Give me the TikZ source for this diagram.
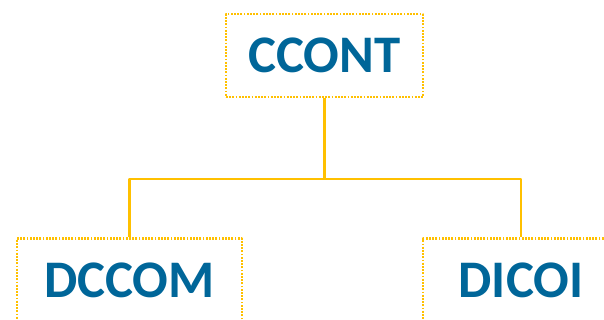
\documentclass[tikz,border=0pt]{standalone}
\usepackage{fontspec}
\setmainfont{Carlito}
\usepackage{tikz}
\usetikzlibrary{positioning,calc}
\definecolor{unitgold}{RGB}{255,192,0}
\definecolor{unitblue}{RGB}{0,102,153}

\begin{document}
\begin{tikzpicture}[line join=bevel,
    unitbox/.style={draw=unitgold,line width=2.2bp,dash pattern=on 1.8bp off 1.4bp,
      rectangle,minimum height=83bp,inner sep=0pt,text=unitblue,
      font=\fontsize{53}{53}\selectfont\bfseries},
    conn/.style={draw=unitgold,line width=2.4bp}]
  \useasboundingbox (0bp,0bp) rectangle (604bp,-320bp);
  \clip (0bp,0bp) rectangle (604bp,-320bp);
%%
  % Node: CCONT
  \node[unitbox,minimum width=197bp] (ccont) at (324.5bp,-55.5bp) {CCONT};
  % Node: DCCOM
  \node[unitbox,minimum width=225bp] (dccom) at (129.5bp,-280bp) {DCCOM};
  % Node: DICOI
  \node[unitbox,minimum width=196bp] (dicoi) at (521bp,-280bp) {DICOI};
  % Edge: CCONT -> hub
  \draw[conn] (ccont.south) -- ++(0bp,-81bp) coordinate (hub);
  % Edge: hub -> DCCOM
  \draw[conn] (hub) -| (dccom.north);
  % Edge: hub -> DICOI
  \draw[conn] (hub) -| (dicoi.north);
%
\end{tikzpicture}
\end{document}
